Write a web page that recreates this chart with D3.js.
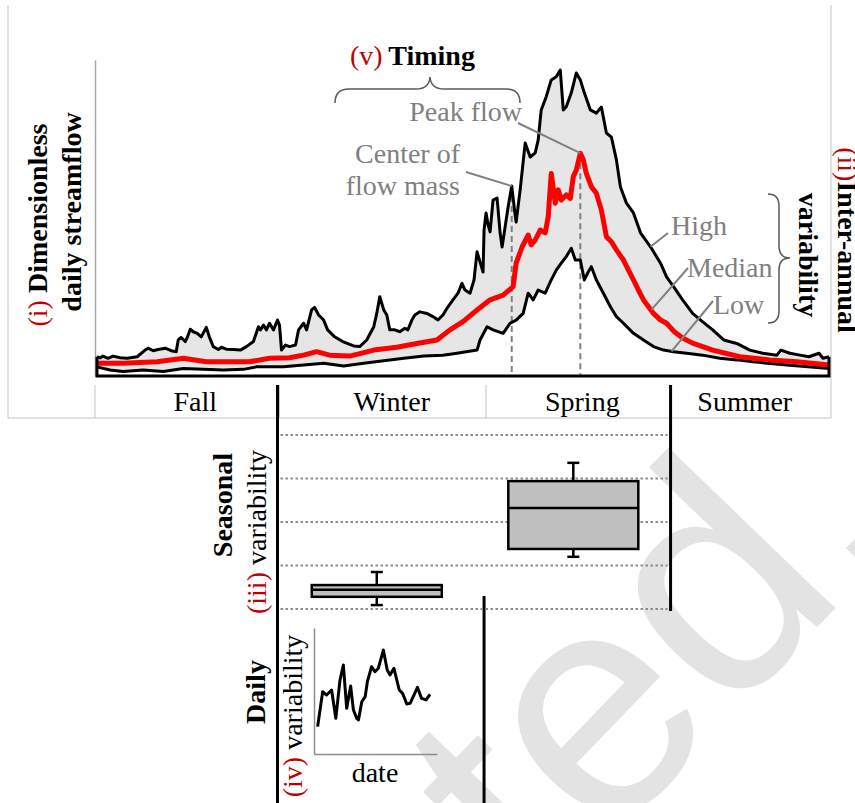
<!DOCTYPE html>
<html>
<head>
<meta charset="utf-8">
<script src="https://cdn.jsdelivr.net/npm/d3@7"></script>
<style>
body { margin: 0; background: #fff; }
svg { display: block; font-family: "Liberation Serif", "Times New Roman", serif; }
</style>
</head>
<body>
<div id="chart"></div>
<script>
// water-year day (0 = start of fall) and dimensionless flow
var highFlow = [[0,0.61],[1.5,0.57],[3,0.63],[5.5,0.56],[8,0.63],[11.5,0.58],[15,0.56],[20,0.61],[24,0.82],[25.5,0.88],[28,0.80],[30.5,0.84],[34,0.88],[37,0.80],[39.5,0.77],[40.5,1.14],[42,1.22],[44,1.09],[45,1.22],[46.5,1.48],[48,1.40],[50,1.35],[52,1.24],[54.5,1.54],[56,1.24],[58,0.93],[60.5,0.84],[62,0.91],[64.5,0.85],[68,0.84],[71.5,0.82],[74.5,0.93],[78,1.09],[80.5,1.56],[81.5,1.46],[83,1.61],[84.5,1.46],[86,1.67],[88,1.46],[90,1.77],[91,1.61],[92,0.82],[94,0.98],[96,0.93],[99,0.98],[100.5,1.46],[103,1.67],[104.5,1.46],[107,2.09],[108.5,2.17],[110.5,1.93],[113,1.77],[115,1.46],[118.5,1.24],[122.5,1.09],[128,0.95],[131,0.93],[134.5,1.14],[138,1.56],[139.5,1.98],[141,2.51],[143,2.09],[144.5,1.93],[146,1.46],[148.5,1.46],[151,1.40],[153.5,1.51],[155,1.46],[157,1.77],[158.5,1.93],[161,2.03],[164.5,1.98],[167.5,1.88],[170,1.77],[172.5,1.93],[175,2.19],[177.5,2.41],[180,2.62],[182,2.93],[183.5,2.72],[186,2.62],[188,3.04],[189.5,3.93],[191,3.61],[192.5,3.29],[193,4.62],[194,5.16],[195,4.78],[196,4.56],[197.5,5.57],[199.5,5.63],[201,4.53],[202,4.08],[203.5,4.72],[205,5.35],[206.8,6.01],[208.5,5.09],[209,4.87],[211,5.89],[213.5,7.37],[216,6.93],[218.5,7.06],[220,7.47],[221.5,8.42],[224,8.84],[226.5,9.37],[229,9.47],[231,9.68],[232.5,8.42],[234,8.52],[236.5,8.96],[239,9.59],[241,9.37],[243,8.96],[246,8.42],[249,8.32],[251.5,8.51],[254,7.69],[256.5,7.56],[259,6.84],[261,5.98],[264,5.47],[267.5,5.16],[271,4.53],[276,4.09],[281,3.57],[284,3.14],[287.5,2.83],[292,2.41],[297,1.98],[301,1.77],[307,1.46],[312.5,1.14],[319,1.03],[325.5,0.82],[332,0.72],[339,0.66],[341,0.82],[345.5,0.72],[350.5,0.66],[355,0.61],[360,0.72],[362,0.56],[365,0.61]];

var medianFlow = [[0,0.40],[13,0.40],[30,0.45],[43,0.56],[54.5,0.45],[66,0.45],[76,0.45],[86,0.56],[96,0.58],[103,0.66],[109.5,0.77],[116,0.66],[126,0.63],[138,0.82],[149.5,0.91],[159.5,1.03],[169.5,1.14],[176,1.46],[182.5,1.72],[189.5,2.09],[196,2.41],[202.5,2.56],[207.5,2.83],[209,3.57],[212,4.09],[215,4.46],[216.5,4.15],[218.5,4.30],[221,4.62],[223.5,4.53],[225,5.04],[226.5,6.41],[228.5,5.47],[230,5.89],[231.5,5.57],[234,5.73],[236,5.62],[237.5,6.31],[239,6.52],[241,7.05],[242.5,6.84],[244,6.41],[246.5,5.99],[249,5.78],[251.5,5.25],[254,4.41],[256.5,4.25],[259,3.99],[262.5,3.67],[265,3.35],[267.5,3.04],[270,2.72],[272.5,2.41],[275,2.19],[277.5,1.98],[281,1.77],[284,1.67],[288,1.39],[292,1.20],[297,1.04],[307,0.82],[320.5,0.61],[335.5,0.51],[349,0.45],[365,0.35]];

var lowFlow = [[0,0.29],[6.5,0.19],[13,0.14],[23,0.19],[33,0.14],[43,0.24],[53,0.21],[63,0.19],[73,0.21],[79.5,0.29],[93,0.29],[103,0.35],[113,0.40],[123,0.32],[133,0.40],[143,0.48],[153,0.56],[163,0.63],[172.5,0.66],[179.5,0.72],[189.5,0.82],[191,1.14],[194.5,1.56],[197.5,1.46],[202.5,1.35],[206,1.67],[209,1.77],[212.5,1.98],[215,2.62],[217.5,2.41],[220,2.72],[223.5,2.62],[226.5,3.04],[229,3.35],[231.5,3.57],[234,3.78],[236.5,4.04],[238.5,3.67],[241,3.67],[243,3.04],[245,3.30],[246.5,3.46],[249,3.04],[252.5,2.62],[256,2.19],[259,1.88],[262.5,1.67],[267.5,1.35],[272.5,1.14],[277.5,0.93],[282.5,0.82],[287.5,0.77],[294,0.72],[302,0.66],[310.5,0.56],[319,0.51],[327,0.45],[344,0.35],[365,0.24]];

var seasons = ["Fall", "Winter", "Spring", "Summer"];
var seasonBreaks = [0, 90, 193, 286, 365];
var seasonLabelDay = [49, 147, 242, 323];

// (v) timing markers
var timingDay = [206.8, 241];
var timingFlow = [6.01, 7.05];

// (ii) curve call-outs
var curveNames = ["High", "Median", "Low"];
var curveNoteDay = [276, 276.5, 286.5];
var curveNoteFlow = [4.09, 2.1, 0.78];

// (iii) seasonal box plots
var boxSeason = ["Winter", "Spring"];
var boxMin = [0.09, 1.20];
var boxQ1 = [0.28, 1.38];
var boxMedian = [0.44, 2.32];
var boxQ3 = [0.55, 2.94];
var boxMax = [0.85, 3.36];
var boxGrid = [0, 1, 2, 3, 4];

// (iv) daily inset
var insetFlow = [[0.3,2.17],[2.1,4.94],[3.5,4.68],[5.3,5.08],[6.8,2.83],[8.3,5.87],[9.5,7.06],[10.7,3.63],[12.1,5.40],[13.1,3.49],[14.3,2.83],[14.9,2.70],[16.1,4.15],[17.3,4.55],[18.1,5.74],[19.6,6.93],[20.8,6.53],[22.0,6.80],[23.8,8.25],[25.2,6.67],[26.2,6.27],[27.6,6.80],[29.5,5.08],[30.7,4.81],[32.2,3.97],[33.4,4.02],[34.5,4.55],[36.0,5.29],[37.5,4.41],[39.1,4.29],[40.5,4.74]];

var W = 855, H = 803;
var red = "#c00000", grey = "#808080";

var x = d3.scaleLinear().domain([0, 365]).range([97, 829]);
var y = d3.scaleLinear().domain([0, 10]).range([376, 60]);

var svg = d3.select("#chart").append("svg")
	.attr("width", W)
	.attr("height", H);

// watermark behind everything
svg.append("text")
	.attr("transform", "translate(912,529) rotate(-46)")
	.attr("text-anchor", "end")
	.style("font-family", "'Liberation Sans', Arial, sans-serif")
	.style("font-size", "320px")
	.attr("fill", "#e3e3e3")
	.text("Accepted.");

// frame of the top panel
svg.append("path")
	.attr("d", "M8,5V418H831V5")
	.attr("fill", "none")
	.attr("stroke", "#c4c4c4");

svg.append("g")
	.attr("transform", "translate(95,0)")
	.call(d3.axisLeft(y).tickValues([]).tickSizeOuter(0))
	.select(".domain").attr("stroke", "#a6a6a6").attr("stroke-width", 1.5);

var area = d3.area()
	.x(function(d){ return x(d[0]); })
	.y0(y(0))
	.y1(function(d){ return y(d[1]); });
var line = d3.line()
	.x(function(d){ return x(d[0]); })
	.y(function(d){ return y(d[1]); });

svg.append("path").datum(highFlow)
	.attr("d", area)
	.attr("fill", "#e6e6e6");
svg.append("path").datum(lowFlow)
	.attr("d", area)
	.attr("fill", "white");

// timing dashes
svg.selectAll(".timing")
	.data(timingDay)
	.enter()
	.append("line")
	.attr("x1", function(d){ return x(d); })
	.attr("x2", function(d){ return x(d); })
	.attr("y1", function(d, i){ return y(timingFlow[i]); })
	.attr("y2", y(0))
	.attr("stroke", grey)
	.attr("stroke-width", 2)
	.attr("stroke-dasharray", "6,4");

svg.append("path").datum(highFlow)
	.attr("d", line)
	.attr("fill", "none").attr("stroke", "black").attr("stroke-width", 3).attr("stroke-linejoin", "round");
svg.append("path").datum(lowFlow)
	.attr("d", line)
	.attr("fill", "none").attr("stroke", "black").attr("stroke-width", 3).attr("stroke-linejoin", "round");
svg.append("path").datum(medianFlow)
	.attr("d", line)
	.attr("fill", "none").attr("stroke", "#ff0000").attr("stroke-width", 5).attr("stroke-linejoin", "round");

// box outline at the bottom of the plot
svg.append("path")
	.attr("d", "M" + x(0) + "," + y(highFlow[0][1]) + "V" + y(0) + "H" + x(365) + "V" + y(highFlow[highFlow.length - 1][1]))
	.attr("fill", "none").attr("stroke", "black").attr("stroke-width", 3);

// season band
svg.append("line")
	.attr("x1", 95).attr("x2", 95).attr("y1", 385).attr("y2", 418)
	.attr("stroke", "#c4c4c4");
svg.selectAll(".sdiv")
	.data([seasonBreaks[1], seasonBreaks[2]])
	.enter()
	.append("line")
	.attr("x1", function(d){ return x(d) + 2; })
	.attr("x2", function(d){ return x(d) + 2; })
	.attr("y1", 385).attr("y2", 418)
	.attr("stroke", "#c4c4c4");

svg.selectAll(".season")
	.data(seasons)
	.enter()
	.append("text")
	.attr("x", function(d, i){ return x(seasonLabelDay[i]); })
	.attr("y", 411)
	.attr("text-anchor", "middle")
	.style("font-size", "28px")
	.text(function(d){ return d; });

// heavy dividers running down through the lower panels
var dividers = [[seasonBreaks[1], 385, 803], [seasonBreaks[3], 385, 611], [seasonBreaks[2], 596, 803]];
svg.selectAll(".hdiv")
	.data(dividers)
	.enter()
	.append("line")
	.attr("x1", function(d){ return x(d[0]); })
	.attr("x2", function(d){ return x(d[0]); })
	.attr("y1", function(d){ return d[1]; })
	.attr("y2", function(d){ return d[2]; })
	.attr("stroke", "black")
	.attr("stroke-width", 3);

// seasonal box plots
var by = d3.scaleLinear().domain([0, 4]).range([609, 435]);
svg.selectAll(".grid")
	.data(boxGrid)
	.enter()
	.append("line")
	.attr("x1", x(seasonBreaks[1]) + 3)
	.attr("x2", x(seasonBreaks[3]) - 3)
	.attr("y1", function(d){ return by(d); })
	.attr("y2", function(d){ return by(d); })
	.attr("stroke", "#8c8c8c")
	.attr("stroke-width", 2)
	.attr("stroke-dasharray", "2.5,2.5");

boxSeason.forEach(function(s, i){
	var k = seasons.indexOf(s);
	var cx = x((seasonBreaks[k] + seasonBreaks[k + 1]) / 2) - 4;
	var g = svg.append("g").attr("stroke", "black").attr("stroke-width", 2.5);
	g.append("line").attr("x1", cx).attr("x2", cx).attr("y1", by(boxMax[i])).attr("y2", by(boxQ3[i]));
	g.append("line").attr("x1", cx).attr("x2", cx).attr("y1", by(boxQ1[i])).attr("y2", by(boxMin[i]));
	g.append("line").attr("x1", cx - 6).attr("x2", cx + 6).attr("y1", by(boxMax[i])).attr("y2", by(boxMax[i]));
	g.append("line").attr("x1", cx - 6).attr("x2", cx + 6).attr("y1", by(boxMin[i])).attr("y2", by(boxMin[i]));
	g.append("rect")
		.attr("x", cx - 65).attr("width", 130)
		.attr("y", by(boxQ3[i]))
		.attr("height", by(boxQ1[i]) - by(boxQ3[i]))
		.attr("fill", "#bfbfbf");
	g.append("line").attr("x1", cx - 65).attr("x2", cx + 65).attr("y1", by(boxMedian[i])).attr("y2", by(boxMedian[i]));
});

// daily inset
var ix = d3.scaleLinear().domain([-1, 43]).range([314, 437]);
var iy = d3.scaleLinear().domain([0, 10]).range([754, 628]);
svg.append("g").attr("transform", "translate(314,0)")
	.call(d3.axisLeft(iy).tickValues([]).tickSizeOuter(0))
	.select(".domain").attr("stroke", "#8c8c8c").attr("stroke-width", 1.5);
svg.append("g").attr("transform", "translate(0,754)")
	.call(d3.axisBottom(ix).tickValues([]).tickSizeOuter(0))
	.select(".domain").attr("stroke", "#8c8c8c").attr("stroke-width", 1.5);
svg.append("path").datum(insetFlow)
	.attr("d", d3.line().x(function(d){ return ix(d[0]); }).y(function(d){ return iy(d[1]); }))
	.attr("fill", "none").attr("stroke", "black").attr("stroke-width", 3).attr("stroke-linejoin", "round");

// text helper: parts = [text, colour, weight]
function addText(px, py, rot, anchor, parts, size){
	var t = svg.append("text")
		.attr("transform", "translate(" + px + "," + py + ") rotate(" + rot + ")")
		.attr("text-anchor", anchor)
		.style("font-size", (size || 28) + "px");
	parts.forEach(function(p){
		t.append("tspan").text(p[0]).attr("fill", p[1]).style("font-weight", p[2]);
	});
	return t;
}

addText(47, 225, -90, "middle", [["(i)\u00a0", red, "normal"], ["Dimensionless", "black", "bold"]]);
addText(81, 212, -90, "middle", [["daily streamflow", "black", "bold"]]);
addText(838, 240, 90, "middle", [["(ii)", red, "normal"], ["Inter-annual", "black", "bold"]]);
addText(799, 255, 90, "middle", [["variability", "black", "bold"]]);
addText(350, 65, 0, "start", [["(v)", red, "normal"], ["\u2009Timing", "black", "bold"]]);
addText(232, 505, -90, "middle", [["Seasonal", "black", "bold"]]);
addText(266, 532, -90, "middle", [["(iii)\u00a0", red, "normal"], ["variability", "black", "normal"]]);
addText(265, 692, -90, "middle", [["Daily", "black", "bold"]]);
addText(302, 716, -90, "middle", [["(iv)\u00a0", red, "normal"], ["variability", "black", "normal"]]);
addText(375, 782, 0, "middle", [["date", "black", "normal"]]);

// timing braces
svg.append("path")
	.attr("d", "M335,103Q335,89 349,89L416,89Q429,89 430,77Q431,89 444,89L506,89Q520,89 520,103")
	.attr("fill", "none").attr("stroke", "#595959").attr("stroke-width", 1.5);
svg.append("path")
	.attr("d", "M768,194Q779,194 779,206L779,246Q779,258 790,258Q779,258 779,270L779,311Q779,323 768,323")
	.attr("fill", "none").attr("stroke", "#595959").attr("stroke-width", 1.5);

// timing call-outs
addText(522, 121, 0, "end", [["Peak flow", grey, "normal"]]);
addText(460, 163, 0, "end", [["Center of", grey, "normal"]]);
addText(460, 195, 0, "end", [["flow mass", grey, "normal"]]);
var timingFrom = [[466, 172], [518, 123]];
svg.selectAll(".tlead")
	.data(timingDay)
	.enter()
	.append("line")
	.attr("x1", function(d, i){ return timingFrom[i][0]; })
	.attr("y1", function(d, i){ return timingFrom[i][1]; })
	.attr("x2", function(d){ return x(d); })
	.attr("y2", function(d, i){ return y(timingFlow[i]); })
	.attr("stroke", grey).attr("stroke-width", 2);

// curve call-outs
var notePos = [[671, 235], [687, 277], [713, 314]];
var noteFrom = [[668, 233], [688, 268], [713, 301]];
curveNames.forEach(function(n, i){
	addText(notePos[i][0], notePos[i][1], 0, "start", [[n, grey, "normal"]]);
	svg.append("line")
		.attr("x1", noteFrom[i][0]).attr("y1", noteFrom[i][1])
		.attr("x2", x(curveNoteDay[i])).attr("y2", y(curveNoteFlow[i]))
		.attr("stroke", grey).attr("stroke-width", 2);
});
</script>
</body>
</html>
